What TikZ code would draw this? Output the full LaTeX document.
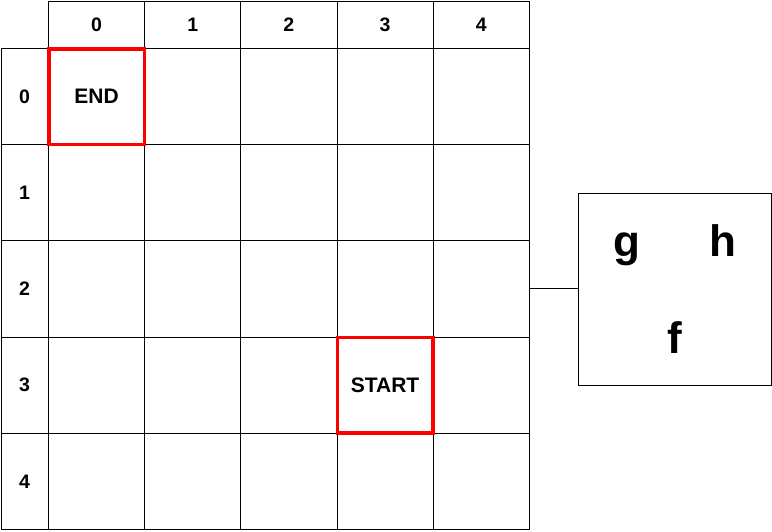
\documentclass[tikz,border=0pt]{standalone}
\usepackage{fontspec}
\setmainfont{Liberation Sans}
\usetikzlibrary{positioning}

\begin{document}
\begin{tikzpicture}[x=1pt, y=-1pt,
        cell/.style={draw, line width=1pt, minimum width=96.2pt, minimum height=96.2pt, inner sep=0pt},
        head/.style={draw, line width=1pt, inner sep=0pt, font=\fontsize{19.5}{19.5}\selectfont\bfseries},
        markbox/.style={draw=red, line width=3.5pt, minimum width=95.5pt, minimum height=95.5pt, inner sep=0pt,
            font=\fontsize{21}{21}\selectfont\bfseries},
        letter/.style={anchor=base, inner sep=0pt, font=\fontsize{44}{44}\selectfont\bfseries}]
    \useasboundingbox (0, 0) rectangle (772, 531);

    % header row, header column and the 5x5 cells
    \foreach \i in {0,...,4} {
        \node[head, minimum width=96.2pt, minimum height=47pt] (col\i) at ({96.5 + 96.2*\i}, 24.5) {\i};
        \node[head, minimum width=47pt, minimum height=96.2pt] (row\i) at (24.5, {96.5 + 96.2*\i}) {\i};
        \foreach \j in {0,...,4}
            \node[cell] (c\i\j) at ({96.5 + 96.2*\j}, {96.5 + 96.2*\i}) {};
    }

    \node[markbox] (endcell) at (c00) {END};
    \node[markbox] (startcell) at (c33) {START};

    % side panel
    \node[draw, line width=1pt, minimum width=193pt, minimum height=192pt, inner sep=0pt] (panel) at (674.5, 289.5) {};
    \node[letter] (g) at (627, 256) {g};
    \node[letter] (h) at (723, 256) {h};
    \node[letter] (f) at (675, 353) {f};

    \draw[line width=1pt] (c24.east) -- (c24.east -| panel.west);
\end{tikzpicture}
\end{document}
